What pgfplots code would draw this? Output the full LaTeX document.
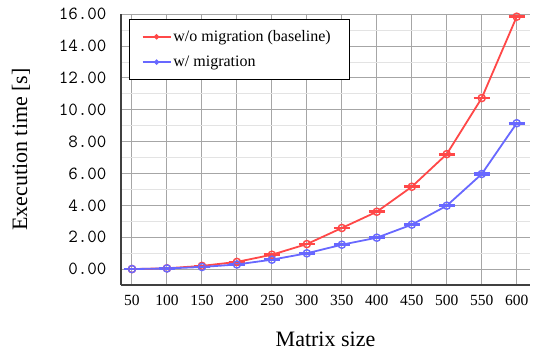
\documentclass[border=0pt]{standalone}
\usepackage{fontspec}
\setmainfont{Liberation Serif}
\usepackage{pgfplots}
\pgfplotsset{compat=1.18}
\definecolor{cred}{RGB}{255,72,72}
\definecolor{cblue}{RGB}{104,104,255}
\begin{document}
\begin{tikzpicture}[x=1pt,y=1pt]
\useasboundingbox (0,0) rectangle (534,352);
\begin{axis}[
  at={(121pt,67pt)}, anchor=south west,
  scale only axis, width=409pt, height=271pt,
  xmin=34.3, xmax=619, ymin=-1.0, ymax=16.02,
  axis x line*=bottom, axis y line*=left,
  axis line style={black!75, line width=1.3pt, -},
  xtick={50,100,...,600},
  xticklabel={\pgfmathprintnumber[assume math mode=true]{\tick}},
  xticklabel style={font=\fontsize{15.5}{18}\selectfont, yshift=-7pt},
  ytick={0,2,...,16},
  minor ytick={1,3,...,15},
  yticklabel={\pgfmathprintnumber[fixed,fixed zerofill,precision=2,assume math mode=true]{\tick}},
  yticklabel style={font=\ttfamily\fontsize{18.5}{20}\selectfont, xshift=-11pt},
  major tick length=0pt, minor tick length=0pt,
  grid=both,
  major grid style={gray!70, line width=1pt},
  minor grid style={gray!22, line width=1pt},
  xlabel={Matrix size},
  ylabel={Execution time [s]},
  label style={font=\fontsize{22}{26}\selectfont},
  xlabel style={yshift=-19pt},
  ylabel style={yshift=22pt},
  legend style={at={(rel axis cs:0.02,0.982)}, anchor=north west,
    font=\fontsize{16}{19}\selectfont, draw=black, line width=1.2pt,
    inner xsep=12pt, inner ysep=9pt, row sep=9pt, fill=white,
    /tikz/every even column/.append style={column sep=5pt}},
  legend cell align=left,
  legend image code/.code={\draw[#1, line width=1.6pt, mark repeat=2, mark phase=2, mark=*, mark size=1.8pt, mark options={solid, fill}] plot coordinates {(0pt,0pt) (14pt,0pt) (28pt,0pt)};},
]
\addplot[cred, line width=1.8pt, mark=o, mark size=3.6pt, mark options={line width=1.4pt},
  error bars/.cd, y dir=both, y explicit, error mark options={line width=1.6pt, mark size=8pt, cred, rotate=90}]
  table[x=x, y=y, y error=e] {
x y e
50 0.00 0.03
100 0.05 0.03
150 0.20 0.03
200 0.45 0.03
250 0.90 0.03
300 1.57 0.03
350 2.58 0.03
400 3.60 0.03
450 5.17 0.03
500 7.22 0.04
550 10.74 0.04
600 15.85 0.04
};
\addlegendentry{w/o migration (baseline)\hspace*{5pt}}
\addplot[cblue, line width=1.8pt, mark=o, mark size=3.6pt, mark options={line width=1.4pt},
  error bars/.cd, y dir=both, y explicit, error mark options={line width=1.6pt, mark size=8pt, cblue, rotate=90}]
  table[x=x, y=y, y error=e] {
x y e
50 0.00 0.03
100 0.04 0.03
150 0.13 0.03
200 0.29 0.03
250 0.59 0.03
300 0.99 0.03
350 1.53 0.03
400 1.97 0.03
450 2.79 0.03
500 3.98 0.04
550 5.97 0.05
600 9.16 0.05
};
\addlegendentry{w/ migration}
\end{axis}
\end{tikzpicture}
\end{document}
